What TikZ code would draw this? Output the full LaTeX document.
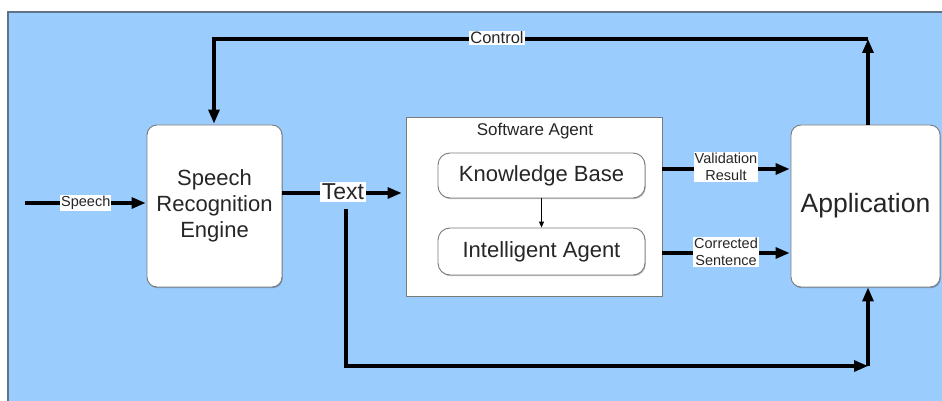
\documentclass[tikz,border=0pt]{standalone}
\usepackage{fontspec}
\setmainfont{Liberation Sans}
\usetikzlibrary{arrows.meta,shadows}
\definecolor{bgblue}{HTML}{9ACCFD}
\definecolor{edgegray}{HTML}{7A7A7A}
\definecolor{framegray}{HTML}{5F7388}
\definecolor{txtgray}{HTML}{262626}
\begin{document}
\begin{tikzpicture}[x=1pt,y=-1pt,
  box/.style={draw=edgegray, line width=0.9pt, fill=white, rounded corners=10pt,
    align=center, text=txtgray, inner sep=0pt,
    drop shadow={shadow xshift=0.8pt, shadow yshift=-1.2pt, opacity=0.25, fill=black}},
  flow/.style={line width=3.1pt, -{Triangle[length=14pt,width=11pt]}},
  thinflow/.style={line width=1pt, -{Triangle[length=6pt,width=5pt]}},
  lab/.style={fill=white, inner sep=1pt, align=center, text=txtgray,
    font=\fontsize{14.5}{16}\selectfont}
]
\useasboundingbox (0,0) rectangle (942,401);
\fill[white] (0,0) rectangle (942,401);
\fill[bgblue] (8,12) rectangle (942,401);
\draw[framegray, line width=1.4pt] (8,401) -- (8,12) -- (942,12);

% boxes
\node[box, minimum width=135pt, minimum height=162pt,
  font=\fontsize{22}{26}\selectfont] (sre) at (214.5,206) {Speech\\Recognition\\Engine};
\node[box, minimum width=149pt, minimum height=162pt,
  font=\fontsize{26.5}{30}\selectfont] (app) at (865.5,206) {Application};
\node[box, rounded corners=0pt, minimum width=256pt, minimum height=179pt] (sa) at (534,206.5) {};
\node[text=txtgray, font=\fontsize{17}{19}\selectfont] (satitle) at (535,131) {Software Agent};
\node[box, drop shadow={opacity=0}, rounded corners=12pt, minimum width=207pt, minimum height=45pt,
  font=\fontsize{22}{24}\selectfont] (kb) at (541.5,175.5) {Knowledge Base};
\node[box, drop shadow={opacity=0}, rounded corners=12pt, minimum width=207pt, minimum height=47pt,
  font=\fontsize{22}{24}\selectfont] (ia) at (541.5,251.5) {Intelligent Agent};

\draw[thinflow] (kb) -- (ia);

% coordinates
\coordinate (sp) at (25,203);
\coordinate (ty) at (343,193);
\coordinate (bt) at (346,209);
\coordinate (bl) at (346,366);
\coordinate (br) at (868,366);
\coordinate (cr) at (868,39);
\coordinate (cl) at (214,39);
\coordinate (vy) at (726,169);
\coordinate (cy) at (726,253);

% speech
\draw[flow, shorten >=1pt] (sp) -- (sp -| sre.west)
  node[lab, pos=0.5] {Speech};

% text
\draw[flow, shorten >=4pt] (ty -| sre.east) -- (ty -| sa.west);
\node[lab, font=\fontsize{23}{24}\selectfont, inner sep=1.5pt] (txt) at (343,192) {Text};

% bottom feed
\draw[flow] (bt) -- (bl) -- (br);
\draw[flow] (br) -- (br |- app.south);

% control loop
\draw[flow] (cr |- app.north) -- (cr);
\draw[flow, shorten >=1pt] (cr) -- (cl) -- (cl |- sre.north);
\node[lab, font=\fontsize{16.5}{18}\selectfont] (ctl) at (497,38) {Control};

% outputs
\draw[flow, shorten >=1pt] (vy -| sa.east) -- (vy -| app.west);
\node[lab, font=\fontsize{14.5}{16.5}\selectfont] (vlab) at (726,167) {Validation\\Result};
\draw[flow, shorten >=1pt] (cy -| sa.east) -- (cy -| app.west);
\node[lab, font=\fontsize{14.5}{16.5}\selectfont] (clab) at (726,252) {Corrected\\Sentence};
\end{tikzpicture}
\end{document}
